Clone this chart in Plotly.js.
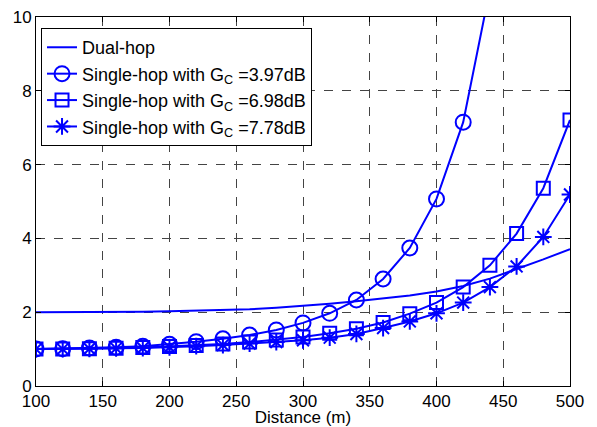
<!DOCTYPE html>
<html>
<head>
<meta charset="utf-8">
<script src="https://cdn.plot.ly/plotly-3.0.1.min.js"></script>
<style>html,body{margin:0;padding:0;background:#fff}#chart{width:597px;height:427px}</style>
</head>
<body>
<div id="chart"></div>
<script>
const distance = [100,120,140,160,180,200,220,240,260,280,300,320,340,360,380,400,420,440,460,480,500];
const dualHop = [2.00,2.00,2.005,2.01,2.015,2.025,2.04,2.06,2.08,2.12,2.17,2.23,2.30,2.37,2.45,2.56,2.71,2.91,3.16,3.43,3.71];
const single397 = [1.00,1.01,1.03,1.05,1.08,1.13,1.20,1.28,1.38,1.52,1.71,1.97,2.33,2.90,3.74,5.07,7.15,10.75];
const single698 = [1.00,1.00,1.01,1.02,1.04,1.07,1.10,1.14,1.19,1.25,1.33,1.43,1.55,1.72,1.96,2.26,2.68,3.27,4.13,5.36,7.21];
const single778 = [1.00,1.00,1.01,1.02,1.03,1.05,1.08,1.11,1.15,1.19,1.24,1.31,1.41,1.57,1.75,1.97,2.26,2.68,3.24,4.04,5.19];
const seriesNames = ['Dual-hop','Single-hop with G<sub>C</sub> =3.97dB','Single-hop with G<sub>C</sub> =6.98dB','Single-hop with G<sub>C</sub> =7.78dB'];
const xTicks = [100,150,200,250,300,350,400,450,500];
const yTicks = [0,2,4,6,8,10];

const blue = '#0000ff';
const fontFam = 'Liberation Sans, Arial, sans-serif';
const lineStyle = {color: blue, width: 2};
const traces = [
  {x: distance, y: dualHop, name: seriesNames[0], mode: 'lines', line: lineStyle},
  {x: distance.slice(0, single397.length), y: single397, name: seriesNames[1], mode: 'lines+markers', line: lineStyle,
   marker: {symbol: 'circle-open', size: 15, color: blue, line: {width: 2, color: blue}}},
  {x: distance, y: single698, name: seriesNames[2], mode: 'lines+markers', line: lineStyle,
   marker: {symbol: 'square-open', size: 13, color: blue, line: {width: 2, color: blue}}},
  {x: distance, y: single778, name: seriesNames[3], mode: 'lines+markers', line: lineStyle,
   marker: {symbol: 'asterisk-open', size: 14, color: blue, line: {width: 2, color: blue}}}
];

const axisCommon = {
  showline: true, linecolor: '#000', linewidth: 1, mirror: 'ticks',
  ticks: 'inside', ticklen: 5, tickcolor: '#000',
  showgrid: true, gridcolor: '#444', griddash: 'dash', gridwidth: 1,
  zeroline: false,
  tickfont: {family: fontFam, size: 17, color: '#000'}
};

const layout = {
  width: 597, height: 427,
  margin: {l: 36, r: 27, t: 17, b: 41},
  paper_bgcolor: '#fff', plot_bgcolor: '#fff',
  font: {family: fontFam, color: '#000'},
  xaxis: Object.assign({}, axisCommon, {
    range: [100, 500], tickvals: xTicks, ticktext: xTicks.map(String),
    title: {text: 'Distance (m)', font: {family: fontFam, size: 17, color: '#000'}, standoff: 0}
  }),
  yaxis: Object.assign({}, axisCommon, {
    range: [0, 10], tickvals: yTicks, ticktext: yTicks.map(String)
  }),
  showlegend: true,
  legend: {
    x: 0.0094, y: 0.97, xanchor: 'left', yanchor: 'top',
    bgcolor: '#fff', bordercolor: '#000', borderwidth: 1,
    font: {family: fontFam, size: 18, color: '#000'},
    tracegroupgap: 0, itemwidth: 30
  }
};

Plotly.newPlot('chart', traces, layout, {staticPlot: true, displayModeBar: false});
</script>
</body>
</html>
